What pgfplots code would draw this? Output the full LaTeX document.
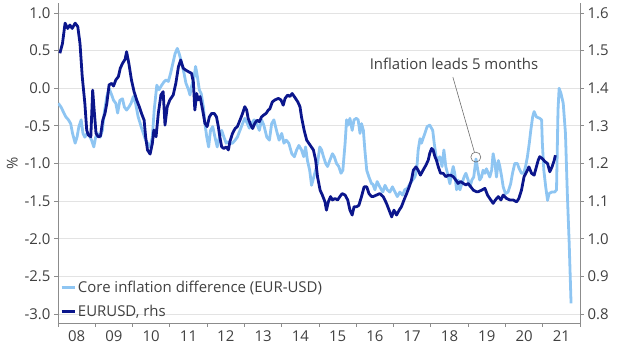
\documentclass[border=0pt]{standalone}
\usepackage{pgfplots}
\pgfplotsset{compat=1.18}
\usepackage{fontspec}
\setmainfont{Open Sans}
\definecolor{lightb}{HTML}{8EC5F2}
\definecolor{darkb}{HTML}{0B168C}
\definecolor{txt}{HTML}{404040}
\definecolor{gridc}{HTML}{E3E3E3}
\definecolor{axc}{HTML}{8C8C8C}
\newcommand{\cf}{\fontsize{15}{18}\selectfont}
\begin{document}
\begin{tikzpicture}
\pgfplotsset{
 base/.style={
  scale only axis, width=522bp, height=320bp,
  xmin=2008, xmax=2022,
  font=\cf,
  /pgf/number format/assume math mode=true,
  tick label style={text=txt, font=\cf},
  axis line style={axc, line width=0.8pt, -},
  tick style={axc, line width=0.8pt},
  tick align=outside,
  major tick length=4bp,
  yticklabel style={/pgf/number format/fixed,/pgf/number format/fixed zerofill,/pgf/number format/precision=1},
 }
}
\begin{axis}[base, name=main,
 axis x line*=bottom, axis y line*=left,
 ymin=-3.12, ymax=1.133,
 ytick={-3,-2.5,-2,-1.5,-1,-0.5,0,0.5,1},
 ymajorgrids, grid style={gridc, line width=0.8pt},
 xtick={2008,2009,2010,2011,2012,2013,2014,2015,2016,2017,2018,2019,2020,2021,2022},
 x tick label as interval,
 xticklabels={08,09,10,11,12,13,14,15,16,17,18,19,20,21},
 ylabel={\%}, ylabel style={text=txt, font=\cf},
]
\addplot[lightb, line width=2.8bp, line join=round] table {
2008.01 -0.20
2008.08 -0.25
2008.14 -0.31
2008.21 -0.38
2008.28 -0.42
2008.34 -0.47
2008.39 -0.60
2008.46 -0.73
2008.51 -0.65
2008.56 -0.51
2008.62 -0.42
2008.67 -0.60
2008.72 -0.65
2008.78 -0.60
2008.83 -0.62
2008.90 -0.69
2008.96 -0.78
2009.01 -0.65
2009.06 -0.60
2009.13 -0.65
2009.19 -0.56
2009.24 -0.33
2009.31 -0.11
2009.37 0.00
2009.44 -0.09
2009.49 -0.16
2009.55 -0.20
2009.60 -0.33
2009.66 -0.16
2009.73 -0.14
2009.78 -0.25
2009.84 -0.29
2009.90 -0.25
2009.96 -0.20
2010.02 -0.11
2010.08 -0.20
2010.15 -0.38
2010.23 -0.51
2010.29 -0.60
2010.35 -0.69
2010.40 -0.73
2010.47 -0.78
2010.53 -0.65
2010.58 -0.29
2010.65 0.04
2010.71 -0.02
2010.78 0.04
2010.85 0.09
2010.90 0.11
2010.96 0.09
2011.02 0.20
2011.08 0.33
2011.14 0.46
2011.20 0.53
2011.25 0.46
2011.32 0.33
2011.38 0.20
2011.43 0.07
2011.50 -0.02
2011.54 -0.09
2011.58 0.02
2011.65 0.15
2011.69 0.29
2011.74 0.15
2011.79 -0.02
2011.84 -0.07
2011.90 -0.25
2011.94 -0.47
2011.99 -0.65
2012.04 -0.78
2012.09 -0.56
2012.15 -0.51
2012.21 -0.65
2012.27 -0.78
2012.33 -0.65
2012.39 -0.56
2012.45 -0.65
2012.51 -0.73
2012.57 -0.71
2012.63 -0.73
2012.68 -0.73
2012.75 -0.69
2012.81 -0.65
2012.88 -0.56
2012.95 -0.47
2013.01 -0.40
2013.08 -0.47
2013.13 -0.53
2013.19 -0.47
2013.26 -0.42
2013.33 -0.47
2013.40 -0.56
2013.46 -0.42
2013.52 -0.49
2013.60 -0.65
2013.67 -0.69
2013.73 -0.47
2013.79 -0.42
2013.86 -0.56
2013.93 -0.69
2014.00 -0.60
2014.06 -0.73
2014.12 -0.69
2014.19 -0.73
2014.27 -0.87
2014.34 -0.91
2014.40 -0.82
2014.46 -0.76
2014.53 -0.82
2014.59 -0.91
2014.64 -0.78
2014.69 -0.96
2014.75 -1.09
2014.80 -1.29
2014.86 -1.18
2014.91 -1.09
2014.96 -1.00
2015.02 -0.78
2015.07 -0.82
2015.12 -0.91
2015.18 -1.00
2015.23 -1.04
2015.29 -0.96
2015.36 -0.87
2015.41 -0.91
2015.47 -1.00
2015.53 -1.04
2015.59 -1.13
2015.64 -1.09
2015.70 -0.73
2015.74 -0.42
2015.78 -0.49
2015.83 -0.40
2015.89 -0.56
2015.94 -0.42
2016.00 -0.40
2016.05 -0.42
2016.10 -0.60
2016.14 -0.47
2016.19 -0.56
2016.23 -0.82
2016.28 -1.09
2016.34 -1.18
2016.41 -1.27
2016.44 -1.27
2016.50 -1.35
2016.56 -1.24
2016.63 -1.31
2016.71 -1.38
2016.77 -1.29
2016.83 -1.35
2016.90 -1.38
2016.97 -1.31
2017.04 -1.38
2017.10 -1.44
2017.17 -1.38
2017.24 -1.42
2017.30 -1.35
2017.37 -1.33
2017.44 -1.27
2017.51 -1.22
2017.57 -1.18
2017.62 -1.09
2017.66 -0.82
2017.71 -0.67
2017.75 -0.73
2017.79 -0.67
2017.84 -0.60
2017.90 -0.51
2017.97 -0.49
2018.05 -0.56
2018.09 -0.73
2018.14 -0.91
2018.19 -0.96
2018.24 -0.91
2018.30 -1.04
2018.35 -0.82
2018.40 -1.04
2018.47 -1.18
2018.51 -1.27
2018.56 -1.13
2018.60 -1.04
2018.64 -1.13
2018.69 -1.35
2018.73 -1.22
2018.78 -1.35
2018.83 -1.27
2018.89 -1.18
2018.94 -1.13
2019.00 -1.22
2019.05 -1.31
2019.10 -1.22
2019.15 -1.18
2019.21 -0.94
2019.26 -1.09
2019.31 -1.22
2019.36 -1.18
2019.40 -1.09
2019.45 -1.13
2019.49 -1.07
2019.54 -1.13
2019.58 -1.18
2019.63 -1.09
2019.67 -0.87
2019.72 -1.00
2019.76 -1.18
2019.81 -0.96
2019.85 -1.04
2019.90 -1.18
2019.94 -1.31
2020.00 -1.40
2020.07 -1.38
2020.14 -1.27
2020.19 -1.13
2020.25 -1.00
2020.32 -1.00
2020.37 -1.07
2020.43 -1.13
2020.49 -1.13
2020.54 -1.04
2020.59 -0.91
2020.64 -0.73
2020.68 -0.56
2020.73 -0.38
2020.77 -0.31
2020.83 -0.38
2020.92 -0.40
2020.97 -0.42
2020.99 -0.73
2021.03 -1.09
2021.08 -1.31
2021.13 -1.49
2021.17 -1.40
2021.24 -1.38
2021.32 -1.38
2021.37 -1.35
2021.41 -0.29
2021.44 0.00
2021.49 -0.07
2021.55 -0.20
2021.61 -0.60
2021.66 -1.40
2021.71 -2.06
2021.76 -2.86
};
\node[text=txt, font=\cf] at (axis cs:2018.62,0.32) {Inflation leads 5 months};
\node[circle, draw=gray!85!black, line width=0.6bp, minimum size=10bp, inner sep=0pt] (c) at (axis cs:2019.206,-0.915) {};
\draw[gray!85!black, line width=0.6bp] (axis cs:2018.59,0.149) -- (c);
\end{axis}
\begin{axis}[base,
 axis y line*=right, axis x line=none,
 ymin=0.776, ymax=1.6266,
 ytick={0.8,0.9,1.0,1.1,1.2,1.3,1.4,1.5,1.6},
 legend style={at={(0,0.009)}, anchor=south west, draw=none, fill=none, font=\cf, text=txt, row sep=7bp, inner xsep=2bp, inner ysep=0bp, /tikz/every even column/.append style={column sep=0pt}},
 legend cell align=left,
 legend image code/.code={\draw[#1] (0bp,0bp) -- (13bp,0bp);},
]
\addlegendimage{lightb, line width=2.8bp}
\addlegendentry{Core inflation difference (EUR-USD)}
\addplot[darkb, line width=2.8bp, line join=round] table {
2008.05 1.493
2008.12 1.519
2008.19 1.573
2008.26 1.559
2008.32 1.568
2008.38 1.559
2008.46 1.573
2008.53 1.564
2008.59 1.519
2008.65 1.431
2008.72 1.360
2008.77 1.289
2008.81 1.276
2008.88 1.271
2008.93 1.395
2008.97 1.342
2009.02 1.280
2009.08 1.271
2009.14 1.273
2009.20 1.315
2009.26 1.333
2009.31 1.360
2009.37 1.409
2009.44 1.413
2009.49 1.406
2009.55 1.422
2009.62 1.431
2009.67 1.453
2009.73 1.466
2009.80 1.477
2009.84 1.497
2009.90 1.466
2009.97 1.422
2010.04 1.391
2010.11 1.369
2010.18 1.351
2010.24 1.333
2010.31 1.315
2010.35 1.271
2010.40 1.236
2010.47 1.225
2010.53 1.253
2010.57 1.289
2010.63 1.271
2010.69 1.333
2010.76 1.382
2010.82 1.391
2010.87 1.302
2010.93 1.351
2011.00 1.369
2011.09 1.382
2011.16 1.413
2011.23 1.457
2011.29 1.475
2011.36 1.453
2011.43 1.448
2011.50 1.444
2011.58 1.440
2011.63 1.417
2011.67 1.342
2011.72 1.386
2011.76 1.369
2011.81 1.378
2011.88 1.342
2011.94 1.307
2012.00 1.298
2012.06 1.324
2012.12 1.333
2012.19 1.333
2012.25 1.324
2012.30 1.298
2012.34 1.271
2012.39 1.244
2012.45 1.240
2012.51 1.244
2012.57 1.236
2012.61 1.258
2012.68 1.280
2012.75 1.293
2012.81 1.298
2012.88 1.315
2012.95 1.333
2013.01 1.351
2013.06 1.342
2013.10 1.320
2013.17 1.302
2013.22 1.293
2013.28 1.307
2013.34 1.315
2013.40 1.311
2013.46 1.324
2013.52 1.329
2013.58 1.333
2013.64 1.342
2013.68 1.345
2013.75 1.364
2013.82 1.369
2013.91 1.373
2013.98 1.369
2014.04 1.355
2014.09 1.373
2014.16 1.382
2014.22 1.378
2014.28 1.386
2014.35 1.376
2014.43 1.364
2014.49 1.351
2014.53 1.324
2014.60 1.289
2014.67 1.262
2014.76 1.249
2014.85 1.236
2014.91 1.209
2014.96 1.165
2015.03 1.129
2015.09 1.116
2015.16 1.098
2015.20 1.076
2015.25 1.098
2015.31 1.112
2015.36 1.103
2015.43 1.107
2015.50 1.103
2015.56 1.112
2015.62 1.120
2015.70 1.116
2015.77 1.103
2015.83 1.076
2015.89 1.063
2015.94 1.085
2016.01 1.085
2016.07 1.089
2016.14 1.112
2016.21 1.138
2016.28 1.138
2016.34 1.120
2016.41 1.112
2016.45 1.112
2016.54 1.116
2016.63 1.120
2016.72 1.112
2016.81 1.094
2016.88 1.076
2016.95 1.058
2017.01 1.076
2017.08 1.063
2017.15 1.076
2017.21 1.085
2017.28 1.103
2017.35 1.120
2017.42 1.138
2017.48 1.156
2017.53 1.182
2017.60 1.191
2017.66 1.182
2017.72 1.169
2017.79 1.182
2017.87 1.196
2017.93 1.209
2017.97 1.227
2018.02 1.240
2018.06 1.236
2018.11 1.218
2018.15 1.209
2018.20 1.191
2018.26 1.174
2018.33 1.174
2018.40 1.165
2018.47 1.169
2018.53 1.169
2018.60 1.165
2018.67 1.156
2018.73 1.147
2018.80 1.152
2018.87 1.147
2018.94 1.143
2019.00 1.147
2019.07 1.138
2019.14 1.129
2019.22 1.125
2019.27 1.125
2019.36 1.129
2019.45 1.134
2019.52 1.116
2019.58 1.107
2019.67 1.094
2019.73 1.103
2019.81 1.112
2019.88 1.103
2019.94 1.116
2020.03 1.107
2020.12 1.103
2020.21 1.103
2020.30 1.098
2020.36 1.107
2020.43 1.129
2020.50 1.165
2020.57 1.178
2020.63 1.191
2020.70 1.174
2020.77 1.169
2020.83 1.191
2020.88 1.209
2020.92 1.218
2020.99 1.213
2021.06 1.205
2021.13 1.200
2021.19 1.178
2021.25 1.191
2021.31 1.209
2021.34 1.222
};
\addlegendentry{EURUSD, rhs}
\end{axis}
\pgfresetboundingbox
\path[use as bounding box] ([xshift=-58bp,yshift=-28bp]main.south west) rectangle ([xshift=40bp,yshift=3bp]main.north east);
\end{tikzpicture}
\end{document}
